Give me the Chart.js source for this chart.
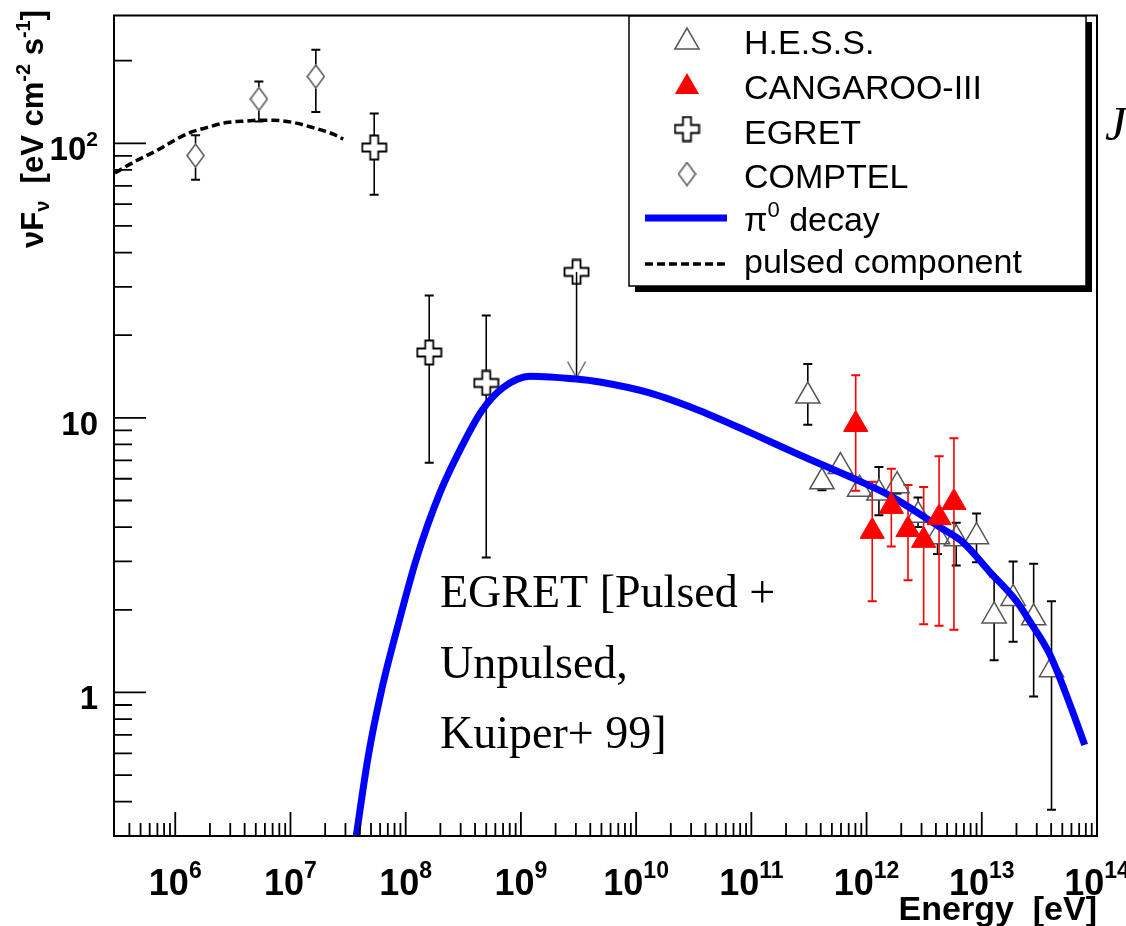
<!DOCTYPE html>
<html>
<head>
<meta charset="utf-8">
<script src="https://cdn.jsdelivr.net/npm/chart.js@4.4.1/dist/chart.umd.min.js"></script>
<style>
  html, body { margin: 0; padding: 0; background: #fff; }
  #wrap { position: relative; width: 1126px; height: 926px; }
</style>
</head>
<body>
<div id="wrap"><canvas id="sed" width="1126" height="926"></canvas></div>
<script>
// ---- data (energy in eV, nuF_nu in eV cm^-2 s^-1) --------------------------

const X_MIN = 2.94e5, X_MAX = 1e14;
const Y_MIN = 0.312,  Y_MAX = 292;

// H.E.S.S.
const hessE  = [3.09e11, 4.1e11, 5.93e11, 8.7e11, 1.28e12, 1.84e12, 2.8e12, 4.13e12, 6.0e12, 9.0e12, 1.28e13, 1.87e13, 2.82e13, 4.03e13];
const hessF  = [12.0, 5.85, 6.65, 5.5, 5.32, 5.66, 4.42, 3.69, 3.63, 3.69, 1.90, 2.20, 1.87, 1.21];
const hessLo = [9.43, 5.45, 6.3, 5.2, 4.42, 5.3, 4.0, 3.19, 2.9, 2.98, 1.31, 1.53, 0.967, 0.374];
const hessHi = [15.7, 6.3, 7.0, 5.8, 6.62, 6.0, 5.13, 4.0, 4.15, 4.48, 2.63, 3.0, 2.94, 2.15];

// CANGAROO-III
const cangE  = [8.05e11, 1.12e12, 1.64e12, 2.29e12, 3.13e12, 4.26e12, 5.73e12];
const cangF  = [9.46, 3.86, 4.76, 3.92, 3.58, 4.33, 4.92];
const cangLo = [5.43, 2.15, 3.4, 2.56, 1.77, 1.75, 1.69];
const cangHi = [14.3, 5.85, 6.53, 5.7, 5.6, 7.24, 8.43];

// EGRET (pulsed + unpulsed)
const egretE  = [5.33e7, 1.6e8, 5.0e8];
const egretF  = [96.5, 17.3, 13.4];
const egretLo = [65, 6.86, 3.1];
const egretHi = [128.5, 27.9, 23.6];
const egretUlE = 3.04e9, egretUlF = 34, egretUlTo = 14.0;

// COMPTEL
const comptelE  = [1.5e6, 5.32e6, 1.66e7];
const comptelF  = [90.2, 145, 175];
const comptelLo = [73.6, 120, 130];
const comptelHi = [107, 168, 219];

// pi0 decay model
const pionE = [3.4e7, 4.73e7, 6.18e7, 8.61e7, 1.24e8, 1.98e8, 3.16e8, 4.56e8, 7.02e8, 1.2e9, 3.04e9, 4.84e9,
               1.31e10, 3.57e10, 9.7e10, 2.63e11, 7.14e11, 1.59e12, 4.31e12, 6.87e12, 1.17e13, 2.0e13,
               2.61e13, 3.89e13, 5.79e13, 7.82e13];
const pionF = [0.23, 0.585, 1.02, 1.766, 3.07, 5.33, 8.06, 10.6, 12.9, 14.19, 13.85, 13.51,
               12.33, 10.62, 8.85, 7.32, 6.10, 5.21, 4.0, 3.52, 2.75, 2.15,
               1.815, 1.377, 0.91, 0.644];

// pulsed component
const pulsedE = [3.0e5, 4.62e5, 6.9e5, 1.03e6, 1.39e6, 1.87e6, 2.79e6, 4.17e6, 5.25e6, 7.08e6, 1.06e7, 1.57e7, 2.35e7, 2.87e7];
const pulsedF = [78, 86.5, 94.0, 103.6, 110, 114, 119, 120.6, 121.3, 121.3, 119, 114, 108, 103.6];

const legendLabels = ['H.E.S.S.', 'CANGAROO-III', 'EGRET', 'COMPTEL', 'decay', 'pulsed component'];
const noteLines = ['EGRET [Pulsed +', 'Unpulsed,', 'Kuiper+ 99]'];

// ---- styling ----------------------------------------------------------------

const SANS  = '"Liberation Sans", Arial, Helvetica, sans-serif';
const SERIF = '"Liberation Serif", "Times New Roman", serif';
const GREY  = '#555';

const pts = (xs, ys) => xs.map((x, i) => ({ x, y: ys[i] }));

function makeMarker(w, h, draw) {
  const c = document.createElement('canvas');
  c.width = w; c.height = h;
  draw(c.getContext('2d'), w, h);
  return c;
}

// ROOT-style open cross
const openCross = makeMarker(27, 27, (g) => {
  const c = 13.5, o = 12, a = 4;
  g.beginPath();
  g.moveTo(c - a, c - o); g.lineTo(c + a, c - o); g.lineTo(c + a, c - a);
  g.lineTo(c + o, c - a); g.lineTo(c + o, c + a); g.lineTo(c + a, c + a);
  g.lineTo(c + a, c + o); g.lineTo(c - a, c + o); g.lineTo(c - a, c + a);
  g.lineTo(c - o, c + a); g.lineTo(c - o, c - a); g.lineTo(c - a, c - a);
  g.closePath();
  g.lineWidth = 1.8; g.strokeStyle = '#000'; g.stroke();
});

// narrow open diamond
const diamondMark = makeMarker(19, 25, (g) => {
  g.beginPath();
  g.moveTo(9.5, 1); g.lineTo(18, 12.5); g.lineTo(9.5, 24); g.lineTo(1, 12.5);
  g.closePath();
  g.lineWidth = 1.5; g.strokeStyle = GREY; g.stroke();
});

function triPath(ctx, x, y, r) {
  ctx.beginPath();
  for (let k = 0; k < 3; k++) {
    const a = k * 2 * Math.PI / 3;
    const px = x + Math.sin(a) * r, py = y - Math.cos(a) * r;
    k === 0 ? ctx.moveTo(px, py) : ctx.lineTo(px, py);
  }
  ctx.closePath();
}

function drawRuns(ctx, runs, x, y) {
  for (const r of runs) {
    ctx.font = r.font;
    ctx.fillText(r.text, x, y + (r.dy || 0));
    x += ctx.measureText(r.text).width;
  }
  return x;
}
function runsWidth(ctx, runs) {
  let w = 0;
  for (const r of runs) { ctx.font = r.font; w += ctx.measureText(r.text).width; }
  return w;
}

function logTicks(min, max) {
  const major = [], minor = [];
  for (let e = Math.floor(Math.log10(min)); e <= Math.ceil(Math.log10(max)); e++) {
    for (let m = 1; m < 10; m++) {
      const v = m * Math.pow(10, e);
      if (v < min * 1.03 || v > max * 1.0001) continue;
      (m === 1 ? major : minor).push(v);
    }
  }
  return { major, minor };
}

// ---- plugins ----------------------------------------------------------------

const errorSets = [
  { E: comptelE, F: comptelF, lo: comptelLo, hi: comptelHi, color: '#000', up: 12, down: 12 },
  { E: egretE,   F: egretF,   lo: egretLo,   hi: egretHi,   color: '#000', up: 12, down: 12 },
  { E: hessE,    F: hessF,    lo: hessLo,    hi: hessHi,    color: '#000', up: 14, down: 7 },
  { E: cangE,    F: cangF,    lo: cangLo,    hi: cangHi,    color: '#ff0000', up: 14, down: 7 },
];

const errorBars = {
  id: 'errorBars',
  beforeDatasetsDraw(chart) {
    const { ctx, scales: { x: xs, y: ys } } = chart;
    ctx.save();
    for (const s of errorSets) {
      ctx.strokeStyle = s.color;
      for (let i = 0; i < s.E.length; i++) {
        const x = xs.getPixelForValue(s.E[i]);
        const y = ys.getPixelForValue(s.F[i]);
        const yHi = ys.getPixelForValue(s.hi[i]);
        const yLo = ys.getPixelForValue(s.lo[i]);
        ctx.lineWidth = 1.6;
        ctx.beginPath();
        if (yHi < y - s.up) { ctx.moveTo(x, y - s.up); ctx.lineTo(x, yHi); }
        if (yLo > y + s.down) { ctx.moveTo(x, y + s.down); ctx.lineTo(x, yLo); }
        ctx.stroke();
        ctx.lineWidth = 2;
        ctx.beginPath();
        if (yHi < y - s.up) { ctx.moveTo(x - 4.5, yHi); ctx.lineTo(x + 4.5, yHi); }
        if (yLo > y + s.down) { ctx.moveTo(x - 4.5, yLo); ctx.lineTo(x + 4.5, yLo); }
        ctx.stroke();
      }
    }
    // EGRET upper limit arrow
    const ux = xs.getPixelForValue(egretUlE);
    const uy = ys.getPixelForValue(egretUlF);
    const ut = ys.getPixelForValue(egretUlTo);
    ctx.strokeStyle = '#000'; ctx.lineWidth = 1.5;
    ctx.beginPath(); ctx.moveTo(ux, uy); ctx.lineTo(ux, ut); ctx.stroke();
    ctx.strokeStyle = '#777';
    ctx.beginPath();
    ctx.moveTo(ux - 9, ut - 16); ctx.lineTo(ux, ut); ctx.lineTo(ux + 9, ut - 16);
    ctx.stroke();
    ctx.restore();
  },
};

const frameAxes = {
  id: 'frameAxes',
  afterDraw(chart) {
    const { ctx, chartArea: a, scales: { x: xs, y: ys } } = chart;
    ctx.save();
    ctx.strokeStyle = '#000';
    ctx.lineWidth = 2;
    ctx.strokeRect(a.left, a.top, a.right - a.left, a.bottom - a.top);

    ctx.lineWidth = 1.8;
    const xt = logTicks(X_MIN, X_MAX);
    ctx.beginPath();
    for (const v of xt.minor) { const p = xs.getPixelForValue(v); ctx.moveTo(p, a.bottom); ctx.lineTo(p, a.bottom - 13); }
    for (const v of xt.major) { const p = xs.getPixelForValue(v); ctx.moveTo(p, a.bottom); ctx.lineTo(p, a.bottom - 24); }
    const yt = logTicks(Y_MIN, Y_MAX);
    for (const v of yt.minor) { const p = ys.getPixelForValue(v); ctx.moveTo(a.left, p); ctx.lineTo(a.left + 18, p); }
    for (const v of yt.major) { const p = ys.getPixelForValue(v); ctx.moveTo(a.left, p); ctx.lineTo(a.left + 32, p); }
    ctx.stroke();

    // tick labels
    ctx.fillStyle = '#000';
    ctx.textBaseline = 'alphabetic';
    ctx.textAlign = 'left';
    const big = 'bold 36px ' + SANS, small = 'bold 23px ' + SANS;
    for (const v of xt.major) {
      const e = Math.round(Math.log10(v));
      const runs = [{ text: '10', font: big }, { text: String(e), font: small, dy: -17 }];
      const w = runsWidth(ctx, runs);
      drawRuns(ctx, runs, xs.getPixelForValue(v) - w / 2, a.bottom + 59);
    }
    const yBig = 'bold 33px ' + SANS, ySmall = 'bold 21px ' + SANS;
    for (const v of yt.major) {
      const e = Math.round(Math.log10(v));
      const runs = e === 0 ? [{ text: '1', font: yBig }]
                 : e === 1 ? [{ text: '10', font: yBig }]
                 : [{ text: '10', font: yBig }, { text: String(e), font: ySmall, dy: -14 }];
      const w = runsWidth(ctx, runs);
      drawRuns(ctx, runs, a.left - 16 - w, ys.getPixelForValue(v) + 17);
    }

    // axis titles
    ctx.font = 'bold 34px ' + SANS;
    ctx.textAlign = 'right';
    ctx.fillText('Energy  [eV]', a.right, 920);
    ctx.textAlign = 'left';
    const yb = 'bold 31px ' + SANS, ys2 = 'bold 20px ' + SANS;
    const title = [
      { text: 'νF', font: yb }, { text: 'ν', font: ys2, dy: 6 },
      { text: '  [eV cm', font: yb }, { text: '-2', font: ys2, dy: -13 },
      { text: ' s', font: yb }, { text: '-1', font: ys2, dy: -13 }, { text: ']', font: yb },
    ];
    const tw = runsWidth(ctx, title);
    ctx.translate(43, 10 + tw);
    ctx.rotate(-Math.PI / 2);
    drawRuns(ctx, title, 0, 0);
    ctx.restore();
  },
};

const legendBox = {
  id: 'legendBox',
  afterDraw(chart) {
    const { ctx } = chart;
    const bx = 629, by = 16, bw = 457, bh = 270;
    ctx.save();
    ctx.fillStyle = '#000';
    ctx.fillRect(bx + 6, by + 6, bw, bh);
    ctx.fillStyle = '#fff';
    ctx.fillRect(bx, by, bw, bh);
    ctx.strokeStyle = '#000'; ctx.lineWidth = 1.5;
    ctx.strokeRect(bx, by, bw, bh);

    const sx = 687, tx = 744, rows = [39, 84, 129, 174, 218, 264];
    // symbols
    triPath(ctx, sx, rows[0] + 3, 14); ctx.strokeStyle = GREY; ctx.lineWidth = 1.5; ctx.stroke();
    triPath(ctx, sx, rows[1] + 3, 14); ctx.fillStyle = '#ff0000'; ctx.fill();
    ctx.drawImage(openCross, sx - openCross.width / 2, rows[2] - openCross.height / 2);
    ctx.drawImage(diamondMark, sx - diamondMark.width / 2, rows[3] - diamondMark.height / 2);
    ctx.strokeStyle = '#0000ff'; ctx.lineWidth = 7;
    ctx.beginPath(); ctx.moveTo(645, rows[4]); ctx.lineTo(727, rows[4]); ctx.stroke();
    ctx.strokeStyle = '#000'; ctx.lineWidth = 3.5; ctx.setLineDash([8, 4]);
    ctx.beginPath(); ctx.moveTo(645, rows[5]); ctx.lineTo(727, rows[5]); ctx.stroke();
    ctx.setLineDash([]);

    // labels
    ctx.fillStyle = '#000';
    ctx.textAlign = 'left'; ctx.textBaseline = 'alphabetic';
    const f = '34px ' + SANS;
    ctx.font = f;
    ctx.fillText(legendLabels[0], tx, 54);
    ctx.fillText(legendLabels[1], tx, 99);
    ctx.fillText(legendLabels[2], tx, 144);
    ctx.fillText(legendLabels[3], tx, 188);
    drawRuns(ctx, [{ text: 'π', font: f }, { text: '0', font: '22px ' + SANS, dy: -14 }, { text: ' ' + legendLabels[4], font: f }], tx, 231);
    ctx.font = f;
    ctx.fillText(legendLabels[5], tx, 273);
    ctx.restore();
  },
};

const notes = {
  id: 'notes',
  afterDraw(chart) {
    const { ctx } = chart;
    ctx.save();
    ctx.fillStyle = '#000';
    ctx.textAlign = 'left'; ctx.textBaseline = 'alphabetic';
    ctx.font = '46px ' + SERIF;
    noteLines.forEach((t, i) => ctx.fillText(t, 440, 607 + i * 70.7));
    ctx.font = 'italic 48px ' + SERIF;
    ctx.fillText('J', 1105, 140);
    ctx.restore();
  },
};

// ---- chart ------------------------------------------------------------------

const ctx = document.getElementById('sed').getContext('2d');
new Chart(ctx, {
  type: 'scatter',
  data: {
    datasets: [
      { label: 'CANGAROO-III', data: pts(cangE, cangF), order: 1,
        pointStyle: 'triangle', pointRadius: 14, pointBackgroundColor: '#ff0000',
        pointBorderColor: '#ff0000', pointBorderWidth: 1 },
      { label: 'pi0 decay', data: pts(pionE, pionF), order: 2, showLine: true,
        borderColor: '#0000ff', borderWidth: 7, pointRadius: 0,
        cubicInterpolationMode: 'monotone', clip: 0 },
      { label: 'H.E.S.S.', data: pts(hessE, hessF), order: 3,
        pointStyle: 'triangle', pointRadius: 14, pointBackgroundColor: 'rgba(0,0,0,0)',
        pointBorderColor: GREY, pointBorderWidth: 1.5 },
      { label: 'EGRET', data: pts(egretE, egretF).concat([{ x: egretUlE, y: egretUlF }]), order: 4,
        pointStyle: openCross, pointRadius: 12 },
      { label: 'COMPTEL', data: pts(comptelE, comptelF), order: 5,
        pointStyle: diamondMark, pointRadius: 12 },
      { label: 'pulsed component', data: pts(pulsedE, pulsedF), order: 6, showLine: true,
        borderColor: '#000', borderWidth: 3.5, borderDash: [8, 4], pointRadius: 0,
        cubicInterpolationMode: 'monotone', clip: 0 },
    ],
  },
  options: {
    responsive: false,
    animation: false,
    events: [],
    layout: { padding: { left: 114, top: 10, right: 29, bottom: 90 } },
    plugins: { legend: { display: false }, tooltip: { enabled: false } },
    scales: {
      x: { type: 'logarithmic', min: X_MIN, max: X_MAX, display: false },
      y: { type: 'logarithmic', min: Y_MIN, max: Y_MAX, display: false },
    },
  },
  plugins: [errorBars, frameAxes, legendBox, notes],
});
</script>
</body>
</html>
